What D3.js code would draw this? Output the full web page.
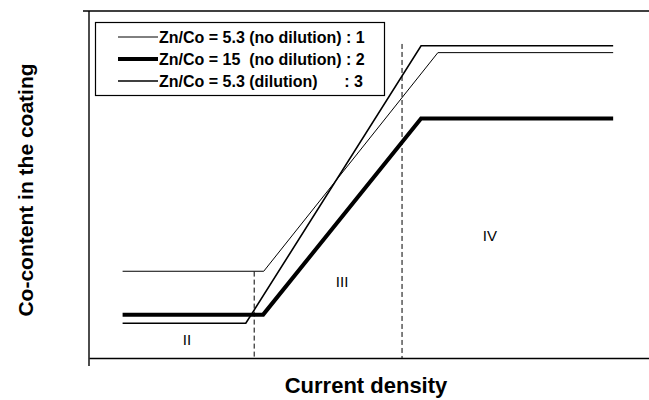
<!DOCTYPE html>
<html>
<head>
<meta charset="utf-8">
<script src="https://cdn.jsdelivr.net/npm/d3@7"></script>
<style>
  html, body { margin: 0; padding: 0; background: #fff; }
  svg { display: block; }
  text { font-family: "Liberation Sans", Arial, Helvetica, sans-serif; fill: #000; }
  .region { opacity: 0.99; }
</style>
</head>
<body>
<svg id="chart" width="649" height="400"></svg>
<script>
// Current density (arbitrary units) at the corners of each polyline
const series1X = [6, 31.2, 62.3, 93.6];   // Zn/Co = 5.3 (no dilution)
const series1Y = [25, 25, 88, 88];
const series2X = [6, 31.1, 59.3, 93.6];   // Zn/Co = 15 (no dilution)
const series2Y = [12.5, 12.5, 69, 69];
const series3X = [6, 28.0, 59.3, 93.6];   // Zn/Co = 5.3 (dilution)
const series3Y = [10, 10, 90, 90];

const seriesNames = [
  "Zn/Co = 5.3 (no dilution) : 1",
  "Zn/Co = 15  (no dilution) : 2",
  "Zn/Co = 5.3 (dilution)      : 3"
];

// Region boundaries (current density) and the heights where the dashed lines stop
const boundaryX = [29.5, 55.9];
const boundaryTop = [24.9, 90.5];

// Region names and where they sit
const regionNames = ["II", "III", "IV"];
const regionX = [17.5, 45.2, 71.6];
const regionY = [5.4, 22.1, 35.3];

const svg = d3.select("#chart");
const mLeft = 89, mRight = 649, mTop = 11, mBottom = 358;

const x = d3.scaleLinear().domain([0, 100]).range([mLeft, mRight]);
const y = d3.scaleLinear().domain([0, 100]).range([mBottom, mTop]);

// Frame: left axis, top and bottom rules (no tick marks)
svg.append("g")
  .attr("transform", `translate(${mLeft},0)`)
  .call(d3.axisLeft(y).tickValues([]).tickSizeOuter(0))
  .call(g => g.select(".domain").attr("stroke", "#000").attr("stroke-width", 1.4)
    .attr("d", `M0,${mTop}V${mBottom + 8}`));
svg.append("g")
  .attr("transform", `translate(0,${mBottom})`)
  .call(d3.axisBottom(x).tickValues([]).tickSizeOuter(0))
  .call(g => g.select(".domain").attr("stroke", "#000").attr("stroke-width", 1.4));
svg.append("g")
  .attr("transform", `translate(0,${mTop})`)
  .call(d3.axisTop(x).tickValues([]).tickSizeOuter(0))
  .call(g => g.select(".domain").attr("stroke", "#000").attr("stroke-width", 1.4)
    .attr("d", `M${mLeft - 6},0H${mRight}`));

// Dashed region boundaries
svg.append("g").selectAll("line")
  .data(boundaryX)
  .join("line")
  .attr("x1", d => x(d)).attr("x2", d => x(d))
  .attr("y1", (d, i) => y(boundaryTop[i])).attr("y2", y(0))
  .attr("stroke", "#000").attr("stroke-width", 1)
  .attr("stroke-dasharray", "5,3");

// Series polylines
const series = [
  { xs: series1X, ys: series1Y, width: 1 },
  { xs: series2X, ys: series2Y, width: 4 },
  { xs: series3X, ys: series3Y, width: 1.6 }
];
const line = d3.line().x(d => x(d[0])).y(d => y(d[1]));
svg.append("g").selectAll("path")
  .data(series)
  .join("path")
  .attr("d", s => line(s.xs.map((v, i) => [v, s.ys[i]])))
  .attr("fill", "none")
  .attr("stroke", "#000")
  .attr("stroke-width", s => s.width)
  .attr("stroke-linejoin", "miter");

// Region labels
svg.append("g").attr("class", "region").selectAll("text")
  .data(regionNames)
  .join("text")
  .attr("x", (d, i) => x(regionX[i]))
  .attr("y", (d, i) => y(regionY[i]))
  .attr("text-anchor", "middle")
  .attr("dominant-baseline", "central")
  .attr("font-size", 15)
  .text(d => d);

// Legend
const legend = svg.append("g");
legend.append("rect")
  .attr("x", 95.5).attr("y", 22.5).attr("width", 289).attr("height", 73)
  .attr("fill", "#fff").attr("stroke", "#000").attr("stroke-width", 1.2);
const rows = legend.selectAll("g.row")
  .data(seriesNames)
  .join("g")
  .attr("class", "row")
  .attr("transform", (d, i) => `translate(0,${37 + i * 22})`);
rows.append("line")
  .attr("x1", 118).attr("x2", 158).attr("y1", 0).attr("y2", 0)
  .attr("stroke", "#000")
  .attr("stroke-width", (d, i) => series[i].width);
rows.append("text")
  .attr("x", 159).attr("y", 5.8)
  .attr("font-size", 16).attr("font-weight", "bold")
  .attr("xml:space", "preserve")
  .style("white-space", "pre")
  .text(d => d);

// Axis titles
svg.append("text")
  .attr("x", 366).attr("y", 393)
  .attr("text-anchor", "middle")
  .attr("font-size", 22).attr("font-weight", "bold")
  .text("Current density");
svg.append("text")
  .attr("transform", "translate(33,190) rotate(-90)")
  .attr("text-anchor", "middle")
  .attr("font-size", 21).attr("font-weight", "bold")
  .text("Co-content in the coating");
</script>
</body>
</html>
